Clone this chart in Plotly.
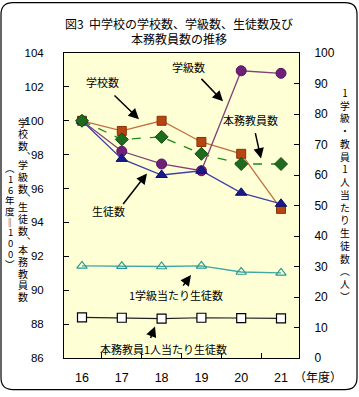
import plotly.graph_objects as go

years = ["16", "17", "18", "19", "20", "21"]
schools = [100, 99.4, 100.0, 98.75, 98.05, 94.8]          # 学校数
classes = [100, 98.2, 97.45, 97.05, 102.95, 102.8]        # 学級数
students = [100, 97.75, 96.8, 97.05, 95.75, 95.1]         # 生徒数
teachers = [100, 98.9, 99.05, 98.05, 97.45, 97.45]        # 本務教員数
per_class = [30.2, 30.1, 30.0, 30.2, 28.2, 27.9]          # 1学級当たり生徒数
per_teacher = [13.3, 13.2, 12.9, 13.2, 13.1, 13.0]        # 本務教員1人当たり生徒数

W, H = 359, 397
L, R, T, B = 64, 299, 53, 362
JP = "Noto Sans CJK JP"
NUM = "Liberation Sans Narrow, Liberation Sans, Arial"

def px(x):
    return (x - L) / (R - L)

def py(y):
    return (B - y) / (B - T)

fig = go.Figure()
fig.add_trace(go.Scatter(x=years, y=schools, mode="lines+markers", name="学校数",
                         line=dict(color="#C07040", width=1.3),
                         marker=dict(symbol="square", size=9, color="#B5460F", line=dict(color="#8A3008", width=1))))
fig.add_trace(go.Scatter(x=years, y=classes, mode="lines+markers", name="学級数",
                         line=dict(color="#804078", width=1.3),
                         marker=dict(symbol="circle", size=10, color="#6E1F78", line=dict(color="#5A1060", width=1))))
fig.add_trace(go.Scatter(x=years, y=students, mode="lines+markers", name="生徒数",
                         line=dict(color="#4040A8", width=1.3),
                         marker=dict(symbol="triangle-up", size=10, color="#1A1A8C", line=dict(color="#10106A", width=1))))
fig.add_trace(go.Scatter(x=years, y=teachers, mode="lines+markers", name="本務教員数",
                         line=dict(color="#1A8A1A", width=1.3, dash="dash"),
                         marker=dict(symbol="diamond", size=10, color="#1E6B1E", line=dict(color="#0F4F0F", width=1))))
fig.add_trace(go.Scatter(x=years, y=per_class, mode="lines+markers", name="1学級当たり生徒数", yaxis="y2",
                         line=dict(color="#40A8A0", width=1.3),
                         marker=dict(symbol="triangle-up-open", size=9, color="#2A9A90", line=dict(width=1.2))))
fig.add_trace(go.Scatter(x=years, y=per_teacher, mode="lines+markers", name="本務教員1人当たり生徒数", yaxis="y2",
                         line=dict(color="#202020", width=1.2),
                         marker=dict(symbol="square", size=9, color="white", line=dict(color="black", width=1.2))))

fig.update_layout(
    width=W, height=H,
    margin=dict(l=L, r=W - R, t=T, b=H - B, pad=0),
    paper_bgcolor="white",
    plot_bgcolor="#FFFFD6",
    showlegend=False,
    font=dict(family=JP, size=11, color="black"),
    xaxis=dict(type="category", showline=True, linecolor="black", linewidth=1, mirror=True,
               ticks="inside", tickson="boundaries", ticklen=5, tickcolor="black",
               showgrid=False, zeroline=False, tickfont=dict(family=NUM, size=12.5), ticklabelstandoff=8),
    yaxis=dict(range=[86, 104], dtick=2, showline=True, linecolor="black", linewidth=1,
               ticks="inside", ticklen=5, tickcolor="black", showgrid=False, zeroline=False,
               tickfont=dict(family=NUM, size=11.5), ticklabelstandoff=17),
    yaxis2=dict(range=[0, 100], dtick=10, overlaying="y", side="right", showline=True,
                linecolor="black", linewidth=1, ticks="inside", ticklen=5, tickcolor="black",
                showgrid=False, zeroline=False, tickfont=dict(family=NUM, size=12), ticklabelstandoff=12),
)

# outer rounded frame
x0, y0, x1, y1, r = 1, 2, 357, 394, 12
path = (f"M {x0+r},{y0} L {x1-r},{y0} Q {x1},{y0} {x1},{y0+r} L {x1},{y1-r} Q {x1},{y1} {x1-r},{y1} "
        f"L {x0+r},{y1} Q {x0},{y1} {x0},{y1-r} L {x0},{y0+r} Q {x0},{y0} {x0+r},{y0} Z")
def conv_path(p):
    out = []
    for tok in p.split(" "):
        if "," in tok:
            a, b = tok.split(",")
            out.append(f"{px(float(a)):.5f},{py(float(b)):.5f}")
        else:
            out.append(tok)
    return " ".join(out)
fig.add_shape(type="path", xref="paper", yref="paper", path=conv_path(path),
              line=dict(color="black", width=1.2), layer="below")

ann = []
def txt(t, x, y, size=11, **kw):
    d = dict(x=px(x), y=py(y), xref="paper", yref="paper", showarrow=False,
             xanchor="center", yanchor="middle", borderpad=0,
             text=t, font=dict(size=size))
    d.update(kw)
    ann.append(d)

# title
txt("図3  中学校の学校数、学級数、生徒数及び", 179, 23, 12)
txt("本務教員数の推移", 179, 38, 12)
# x axis unit
txt("（年度）", 318, 381, 12)

# left axis title: stacked characters, commas give a half-cell gap
left_title = "学校数、学級数、生徒数、本務教員数"
yy = 123
for ch in left_title:
    if ch == "、":
        txt("､", 29.5, yy - 12 + 4, 9.5)
        yy += 7
        continue
    txt(ch, 23, yy, 10)
    yy += 12
sub = ["︵", "1", "6", "年", "度", "‖", "1", "0", "0", "︶"]
for i, ch in enumerate(sub):
    txt(ch, 10, 170 + i * 10.8, 9.5)
right_title = ["1", "学", "級", "・", "教", "員", "1", "人", "当", "た", "り", "生", "徒", "数", "︵", "人", "︶"]
txt("<br>".join(right_title), 345, 197, 9.8)

# series labels
labels = [
    ("学校数", 102, 82),
    ("学級数", 188, 67),
    ("本務教員数", 250, 121),
    ("生徒数", 108, 213),
    ("1学級当たり生徒数", 176, 298),
    ("本務教員1人当たり生徒数", 163, 353),
]
for t, x, y in labels:
    txt(t, x, y, 11)

arrows = [
    ((113, 95), (139, 120)),
    ((200, 78), (223, 102)),
    ((255, 133), (261, 160)),
    ((122, 207), (147, 175)),
    ((182, 290), (191, 278)),
    ((150, 343), (155, 330)),
]
for (tx, ty), (hx, hy) in arrows:
    ann.append(dict(x=px(hx), y=py(hy), xref="paper", yref="paper", showarrow=True,
                    ax=tx - hx, ay=ty - hy, axref="pixel", ayref="pixel", text="",
                    arrowhead=2, arrowsize=1.4, arrowwidth=1.5, arrowcolor="black"))

fig.update_layout(annotations=ann)
fig.write_html("out.html", config={"displayModeBar": False},
               post_script="document.body.style.margin='0';document.body.style.overflow='hidden';")
